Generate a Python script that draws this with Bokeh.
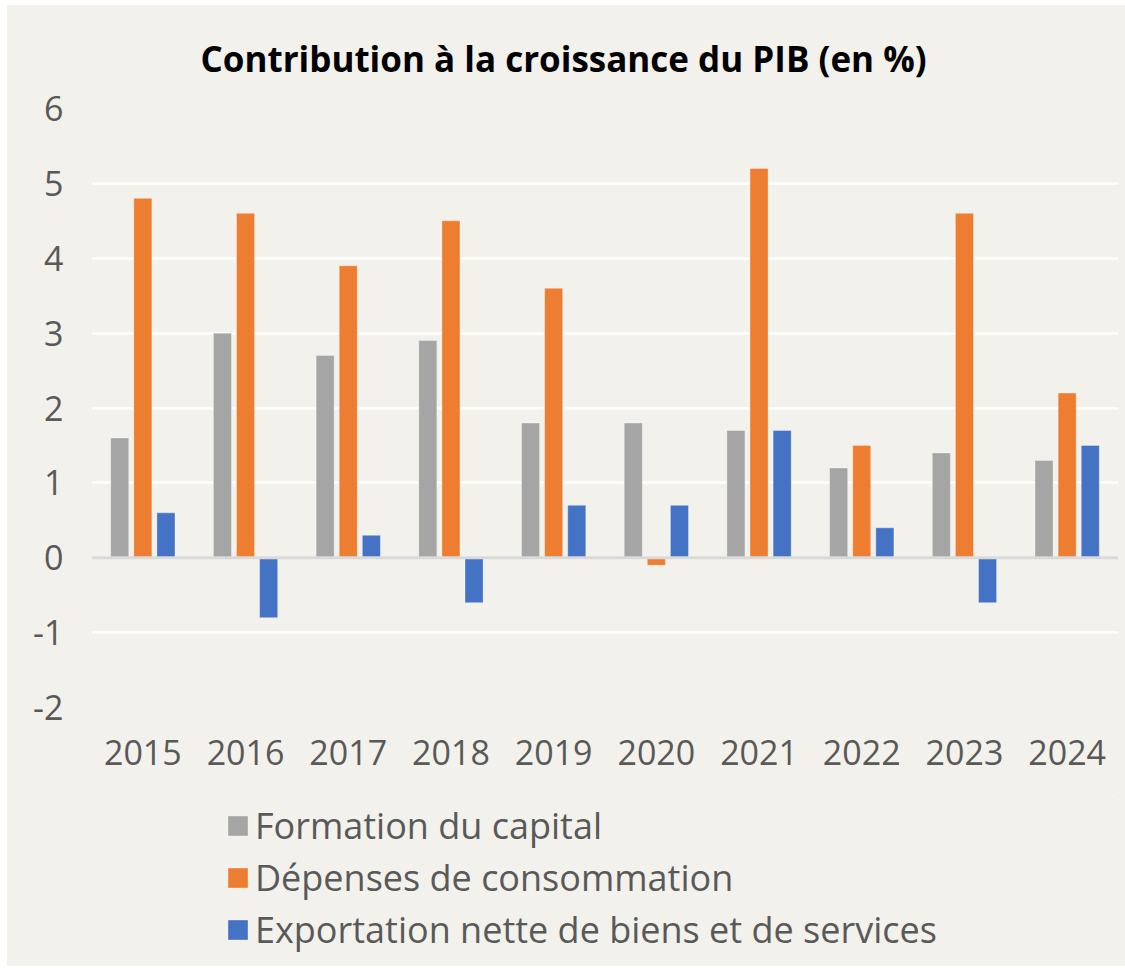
from bokeh.plotting import figure
from bokeh.layouts import column
from bokeh.models import ColumnDataSource, Range1d, FactorRange, FixedTicker, Legend, LegendItem, Span
from bokeh.transform import dodge
from bokeh.embed import file_html
from bokeh.resources import INLINE

years = ["2015", "2016", "2017", "2018", "2019", "2020", "2021", "2022", "2023", "2024"]
formation = [1.6, 3.0, 2.7, 2.9, 1.8, 1.8, 1.7, 1.2, 1.4, 1.3]
depenses = [4.8, 4.6, 3.9, 4.5, 3.6, -0.1, 5.2, 1.5, 4.6, 2.2]
exportation = [0.6, -0.8, 0.3, -0.6, 0.7, 0.7, 1.7, 0.4, -0.6, 1.5]
series_names = ["Formation du capital", "Dépenses de consommation",
                "Exportation nette de biens et de services"]
colors = ["#A5A5A5", "#ED7D31", "#4472C4"]
y_ticks = [-2, -1, 0, 1, 2, 3, 4, 5, 6]
y_labels = {t: str(t) for t in y_ticks}

BG = "#F2F1EC"
FONT = "Open Sans"

src = ColumnDataSource(dict(years=years, formation=formation,
                            depenses=depenses, exportation=exportation))

p = figure(width=1118, height=790, output_backend="svg", toolbar_location=None,
           x_range=FactorRange(factors=years, range_padding=0),
           y_range=Range1d(-2, 6),
           min_border_left=84, min_border_right=7, min_border_top=103,
           min_border_bottom=88,
           title="Contribution à la croissance du PIB (en %)")

p.background_fill_color = BG
p.border_fill_color = BG
p.outline_line_color = None
p.styles = {"background-color": BG}

p.title.align = "left"
p.title.offset = 109
p.title.text_font = FONT
p.title.text_font_style = "bold"
p.title.text_font_size = "35px"
p.title.text_color = "#000000"
p.title.standoff = 54

offsets = [-0.225, 0.0, 0.225]
fields = ["formation", "depenses", "exportation"]
for f, off, c in zip(fields, offsets, colors):
    p.vbar(x=dodge("years", off, range=p.x_range), top=f, bottom=0,
           width=0.176, source=src, fill_color=c,
           line_color="white", line_alpha=0.35, line_width=1)

p.xgrid.grid_line_color = None
p.ygrid.grid_line_color = "white"
p.ygrid.grid_line_width = 2.5
p.yaxis.ticker = FixedTicker(ticks=y_ticks)
p.yaxis.major_label_overrides = y_labels

zero = Span(location=0, dimension="width", line_color="#D9D9D9", line_width=3)
p.add_layout(zero)

for ax in (p.xaxis[0], p.yaxis[0]):
    ax.axis_line_color = None
    ax.major_tick_line_color = None
    ax.minor_tick_line_color = None
    ax.major_label_text_font = FONT
    ax.major_label_text_font_size = "34px"
    ax.major_label_text_color = "#595959"

p.yaxis.major_label_standoff = 22
p.xaxis.major_label_standoff = 26

# legend panel
lg = figure(width=1118, height=171, output_backend="svg", toolbar_location=None,
            x_range=Range1d(0, 1), y_range=Range1d(0, 1),
            min_border=0, min_border_left=0, min_border_right=0,
            min_border_top=0, min_border_bottom=0)
lg.axis.visible = False
lg.grid.visible = False
lg.background_fill_color = BG
lg.border_fill_color = BG
lg.outline_line_color = None
lg.styles = {"background-color": BG}

items = []
for n, c in zip(series_names, colors):
    r = lg.vbar(x=[5], top=[5], bottom=[4], width=0.1, fill_color=c,
                line_color="white", line_alpha=0.35, line_width=1)
    items.append(LegendItem(label=n, renderers=[r]))

legend = Legend(items=items, location=(134, 12), orientation="vertical",
                background_fill_alpha=0, border_line_color=None,
                padding=0, margin=0, spacing=3,
                glyph_width=25, glyph_height=25, label_standoff=5,
                label_text_font=FONT, label_text_font_size="36px",
                label_text_color="#595959")
lg.add_layout(legend, "center")

layout = column(p, lg, spacing=0)
layout.margin = (5, 0, 0, 7)

open("out.html", "w").write(file_html(layout, INLINE))
